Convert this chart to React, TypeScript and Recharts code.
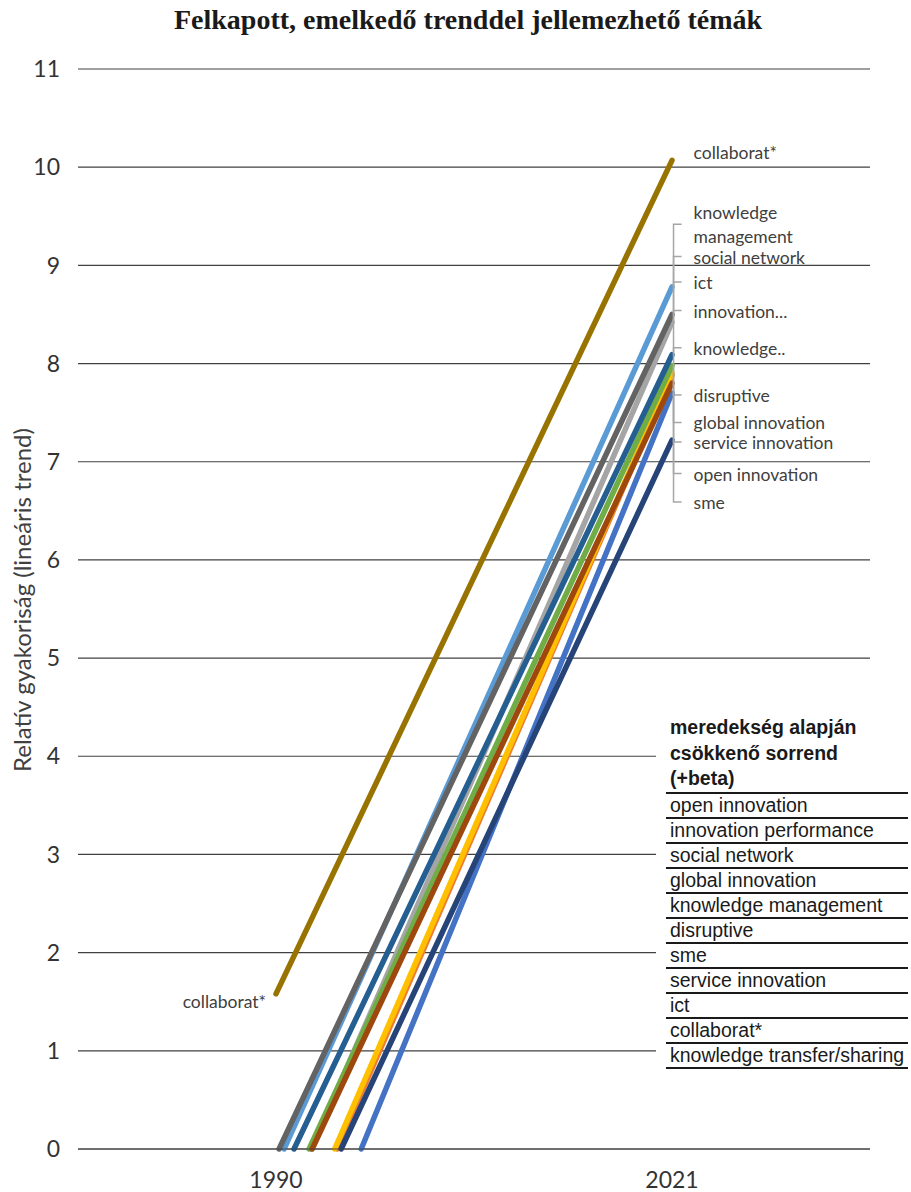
import React from "react";
import { LineChart, Line, XAxis, YAxis, CartesianGrid, LabelList } from "recharts";

// years on the x axis
const years = [1990, 2021];
const yTicks = [0, 1, 2, 3, 4, 5, 6, 7, 8, 9, 10, 11];

// series in the order of the table (slope, descending)
const seriesNames = [
  "open innovation",
  "innovation performance",
  "social network",
  "global innovation",
  "knowledge management",
  "disruptive",
  "sme",
  "service innovation",
  "ict",
  "collaborat*",
  "knowledge transfer/sharing",
];
const seriesColors = [
  "#4472C4", "#ED7D31", "#A5A5A5", "#FFC000", "#5B9BD5", "#70AD47",
  "#264478", "#9E480E", "#636363", "#997300", "#255E91",
];
// where each trend line starts (year, value) and its value in 2021
const startYears = [1996.67, 1994.79, 1992.75, 1994.59, 1990.63, 1992.59, 1995.1, 1992.83, 1990.24, 1990, 1991.41];
const startValues = [0, 0, 0, 0, 0, 0, 0, 0, 0, 1.58, 0];
const endValues = [7.7, 7.88, 8.42, 7.9, 8.78, 7.98, 7.22, 7.8, 8.5, 10.07, 8.09];

// data labels at the right end, with the value level where each label sits
const calloutTexts = [
  "open innovation", "innovation...", "social network", "global innovation",
  "knowledge\nmanagement", "disruptive", "sme", "service innovation", "ict",
  "collaborat*", "knowledge..",
];
const calloutValues = [6.88, 8.54, 9.09, 7.4, 9.42, 7.68, 6.59, 7.2, 8.83, 10.15, 8.16];

const legendTitle = ["meredekség alapján", "csökkenő sorrend", "(+beta)"];

const labelFont = "Lato, 'Open Sans', sans-serif";

const App: React.FC = () => {
  return (
    <div style={{ position: "absolute", left: 0, top: 0, width: 911, height: 1192, background: "#fff" }}>
      <div style={{
        position: "absolute", top: 3, left: 25, width: 886, textAlign: "center",
        fontFamily: "'Liberation Serif', 'Times New Roman', serif", fontWeight: 700,
        fontSize: 28, lineHeight: "34px", color: "#1a1a1a",
      }}>
        Felkapott, emelkedő trenddel jellemezhető témák
      </div>
      <LineChart width={911} height={1192} margin={{ top: 69, right: 41, bottom: 0, left: 0 }}>
        <CartesianGrid vertical={false} stroke="#404040" strokeWidth={1.2} />
        <XAxis
          type="number"
          dataKey="x"
          domain={[1974.5, 2036.5]}
          ticks={years}
          allowDataOverflow
          height={43}
          tickLine={false}
          tickMargin={17}
          axisLine={{ stroke: "#404040", strokeWidth: 1.2 }}
          tick={{ fontSize: 23, fill: "#333", fontFamily: labelFont }}
        />
        <YAxis
          type="number"
          domain={[0, 11]}
          ticks={yTicks}
          width={78}
          axisLine={false}
          tickLine={false}
          tickMargin={12}
          tick={{ fontSize: 23, fill: "#333", fontFamily: labelFont }}
          label={{
            content: (props: any) => {
              const vb = props.viewBox;
              const cx = vb.x + 21;
              const cy = vb.y + vb.height / 2 - 9;
              return (
                <text x={cx} y={cy} transform={`rotate(-90 ${cx} ${cy})`} textAnchor="middle"
                  dominantBaseline="central" fontSize={24} fill="#404040" fontFamily={labelFont}>
                  Relatív gyakoriság (lineáris trend)
                </text>
              );
            },
          }}
        />
        {seriesNames.map((name, i) => (
          <Line
            key={name}
            name={name}
            data={[{ x: startYears[i], y: startValues[i] }, { x: years[1], y: endValues[i] }]}
            dataKey="y"
            type="linear"
            stroke={seriesColors[i]}
            strokeWidth={5.5}
            strokeLinecap="round"
            dot={false}
            isAnimationActive={false}
          >
            {name === "collaborat*" && (
              <LabelList
                dataKey="y"
                content={(p: any) =>
                  p.index === 0 ? (
                    <text x={p.x - 10} y={p.y + 8} textAnchor="end" dominantBaseline="central"
                      fontSize={17.5} fill="#404040" fontFamily={labelFont}>
                      {name}
                    </text>
                  ) : null
                }
              />
            )}
          </Line>
        ))}
        {seriesNames.map((name, i) => (
          <Line
            key={"callout-" + name}
            data={[
              { x: years[1] + 0.12, y: endValues[i] },
              { x: years[1] + 0.12, y: calloutValues[i] },
              { x: years[1] + 0.75, y: calloutValues[i] },
            ]}
            dataKey="y"
            type="linear"
            stroke={name === "collaborat*" ? "none" : "#A6A6A6"}
            strokeWidth={1.5}
            dot={false}
            legendType="none"
            isAnimationActive={false}
          >
            <LabelList
              dataKey="y"
              content={(p: any) => {
                if (p.index !== 2) return null;
                const lines = calloutTexts[i].split("\n");
                const x0 = p.x + 12;
                const y0 = p.y - ((lines.length - 1) * 24) / 2;
                return (
                  <text x={x0} y={y0} dominantBaseline="central" fontSize={17.5} fill="#404040" fontFamily={labelFont}>
                    {lines.map((t, k) => (
                      <tspan key={k} x={x0} y={y0 + k * 24}>{t}</tspan>
                    ))}
                  </text>
                );
              }}
            />
          </Line>
        ))}
      </LineChart>
      <div style={{
        position: "absolute", left: 656, top: 715, width: 255, background: "#fff",
        paddingLeft: 10, boxSizing: "border-box",
        fontFamily: "'Liberation Sans', Arial, sans-serif", fontSize: 19.5, color: "#1a1a1a",
      }}>
        {legendTitle.map((t) => (
          <div key={t} style={{ fontWeight: 700, lineHeight: "25.7px", paddingLeft: 4 }}>{t}</div>
        ))}
        <div style={{ width: 242, borderTop: "2px solid #1a1a1a" }}>
          {seriesNames.map((name) => (
            <div key={name} style={{ lineHeight: "23px", paddingLeft: 4, borderBottom: "2px solid #1a1a1a", whiteSpace: "nowrap" }}>
              {name}
            </div>
          ))}
        </div>
      </div>
    </div>
  );
};

export default App;
